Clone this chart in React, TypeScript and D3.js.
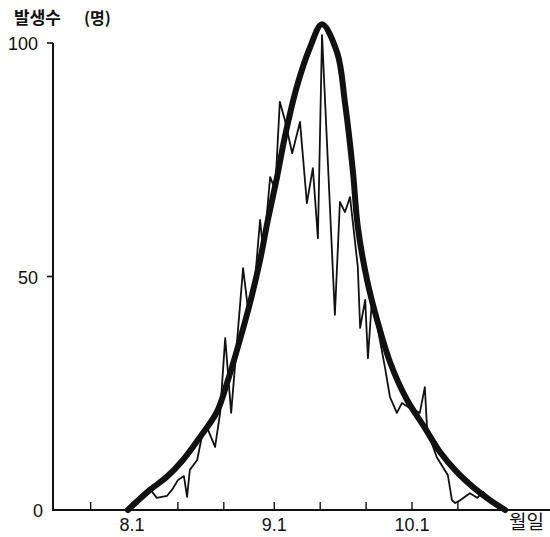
import * as d3 from 'd3';
import React, { useEffect, useRef } from 'react';

// x values are days counted from Aug 1 (8.1 = 0)
const tickDays = [-9, 0, 10, 20, 31, 41, 51, 61, 71];
const tickLabels = ['', '8.1', '', '', '9.1', '', '', '10.1', ''];
const yTickValues = [0, 50, 100];
const yTickLabels = ['0', '50', '100'];

// daily observed counts (thin line)
const observedDays = [
  -0.9, 1.1, 2.4, 3.9, 5.4, 7.6, 8.7, 10.0, 11.3, 12.0, 12.6, 14.2, 15.5, 16.3, 18.1, 19.2,
  20.3, 21.6, 24.2, 25.3, 26.8, 27.9, 28.5, 29.4, 30.1, 31.2, 32.2, 33.3, 34.9, 36.6, 38.1,
  39.4, 40.5, 41.4, 44.2, 45.3, 46.4, 47.5, 49.2, 49.7, 50.8, 51.4, 52.3, 53.6, 55.1, 56.2,
  57.7, 58.8, 60.6, 62.7, 63.8, 64.3, 66.4, 68.8, 69.7, 70.4, 71.5, 73.6, 75.2, 76.5, 79.1, 80.2,
];
const observedCounts = [
  0, 2.1, 2.6, 4.5, 2.6, 3.0, 4.3, 6.4, 7.3, 2.8, 8.6, 10.7, 17.1, 17.8, 13.5, 20.8,
  36.8, 20.8, 51.8, 42.8, 49.3, 62.1, 56.3, 63.6, 71.3, 68.5, 87.4, 83.5, 76.4, 83.1, 65.7,
  73.2, 58.2, 101.7, 41.8, 66.0, 63.8, 67.0, 52.0, 39.0, 45.0, 32.5, 45.6, 38.5, 30.6, 24.2,
  20.8, 22.9, 21.8, 20.8, 26.3, 17.1, 11.3, 7.5, 2.1, 1.5, 2.1, 3.6, 2.6, 3.9, 1.1, 0,
];

// fitted curve (thick line)
const fittedDays = [
  -0.9, 3.9, 7.6, 11.1, 14.8, 18.5, 20.9, 23.5, 25.7, 27.9, 29.6, 31.6, 33.3, 35.9, 38.8,
  41.4, 44.7, 46.4, 48.1, 49.2, 51.2, 53.4, 56.2, 59.9, 63.8, 67.1, 70.8, 74.3, 78.0, 81.3,
];
const fittedCounts = [
  0, 4.3, 7.1, 10.7, 15.6, 21.0, 27.8, 36.4, 44.3, 53.5, 62.1, 71.3, 79.9, 90.6, 99.1,
  104.0, 97.9, 87.2, 72.8, 60.6, 49.3, 40.7, 31.7, 23.6, 17.6, 12.4, 8.1, 4.9, 2.1, 0,
];

const W = 550;
const H = 537;
const INK = '#111111';

export default function App() {
  const svgRef = useRef<SVGSVGElement | null>(null);

  useEffect(() => {
    if (!svgRef.current) return;
    const svg = d3.select(svgRef.current);
    svg.selectAll('*').remove();

    const x = d3.scaleLinear().domain([0, 61]).range([132, 412]);
    const y = d3.scaleLinear().domain([0, 100]).range([510, 43]);
    const axisX = 53;

    const digitFont = '"Liberation Sans", Arial, sans-serif';
    const krFont = '"Noto Sans CJK KR", "Noto Sans", sans-serif';

    // axes
    svg.append('line')
      .attr('x1', axisX).attr('x2', axisX)
      .attr('y1', y(100)).attr('y2', y(0) + 1)
      .attr('stroke', INK).attr('stroke-width', 2);
    svg.append('line')
      .attr('x1', axisX).attr('x2', W)
      .attr('y1', y(0)).attr('y2', y(0))
      .attr('stroke', INK).attr('stroke-width', 2);

    // y ticks
    yTickValues.forEach((v, i) => {
      if (v > 0) {
        svg.append('line')
          .attr('x1', axisX - 6).attr('x2', axisX)
          .attr('y1', y(v)).attr('y2', y(v))
          .attr('stroke', INK).attr('stroke-width', 1.6);
      }
      svg.append('text')
        .attr('x', v === 0 ? 43 : 38)
        .attr('y', y(v) + 7)
        .attr('text-anchor', 'end')
        .style('font-family', digitFont)
        .style('font-size', '18px')
        .attr('fill', INK)
        .text(yTickLabels[i]);
    });

    // x ticks
    tickDays.forEach((d, i) => {
      svg.append('line')
        .attr('x1', x(d)).attr('x2', x(d))
        .attr('y1', y(0)).attr('y2', y(0) - 8)
        .attr('stroke', INK).attr('stroke-width', 1.4);
      if (tickLabels[i]) {
        svg.append('text')
          .attr('x', x(d))
          .attr('y', 531)
          .attr('text-anchor', 'middle')
          .style('font-family', digitFont)
          .style('font-size', '18px')
          .attr('fill', INK)
          .text(tickLabels[i]);
      }
    });

    // titles
    svg.append('text')
      .attr('x', 14).attr('y', 24)
      .style('font-family', krFont)
      .style('font-size', '17px')
      .style('font-weight', 'bold')
      .attr('fill', INK)
      .text('발생수');
    svg.append('text')
      .attr('x', 84).attr('y', 24)
      .style('font-family', krFont)
      .style('font-size', '16px')
      .style('font-weight', 'bold')
      .attr('fill', INK)
      .text('(명)');
    svg.append('text')
      .attr('x', 509).attr('y', 529)
      .style('font-family', krFont)
      .style('font-size', '19px')
      .attr('fill', INK)
      .text('월일');

    const observed = observedDays.map((d, i) => [d, observedCounts[i]] as [number, number]);
    const fitted = fittedDays.map((d, i) => [d, fittedCounts[i]] as [number, number]);

    const thinLine = d3.line<[number, number]>()
      .x((d) => x(d[0]))
      .y((d) => y(d[1]));

    const thickLine = d3.line<[number, number]>()
      .x((d) => x(d[0]))
      .y((d) => y(d[1]))
      .curve(d3.curveCatmullRom.alpha(0.5));

    svg.append('path')
      .attr('d', thinLine(observed))
      .attr('fill', 'none')
      .attr('stroke', INK)
      .attr('stroke-width', 1.8)
      .attr('stroke-linejoin', 'round');

    svg.append('path')
      .attr('d', thickLine(fitted))
      .attr('fill', 'none')
      .attr('stroke', INK)
      .attr('stroke-width', 6)
      .attr('stroke-linecap', 'round');
  }, []);

  return (
    <svg
      ref={svgRef}
      width={W}
      height={H}
      style={{ position: 'absolute', left: 0, top: 0, background: '#fff' }}
    />
  );
}
